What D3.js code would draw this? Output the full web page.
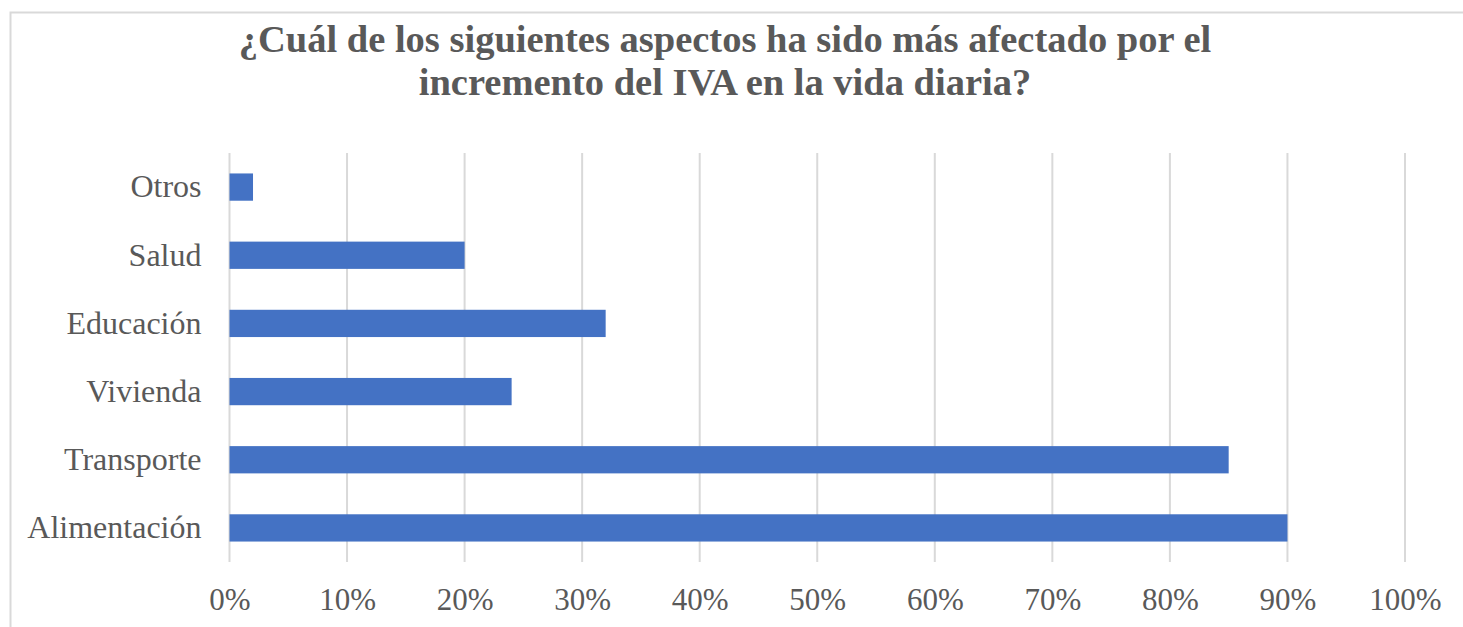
<!DOCTYPE html>
<html>
<head>
<meta charset="utf-8">
<script src="https://d3js.org/d3.v7.min.js"></script>
<style>
  body { margin: 0; background: #fff; }
  text { font-family: "Liberation Serif", "Times New Roman", serif; fill: #595959; }
</style>
</head>
<body>
<div id="chart"></div>
<script>
// data
var categories = ["Alimentación", "Transporte", "Vivienda", "Educación", "Salud", "Otros"];
var values = [0.90, 0.85, 0.24, 0.32, 0.20, 0.02];
var ticks = [0, 0.1, 0.2, 0.3, 0.4, 0.5, 0.6, 0.7, 0.8, 0.9, 1.0];
var titleLines = ["¿Cuál de los siguientes aspectos ha sido más afectado por el",
                  "incremento del IVA en la vida diaria?"];

var W = 1463, H = 627;
var margin = {top: 153, left: 229.5, right: 58, bottom: 65};

var svg = d3.select("#chart").append("svg")
    .attr("width", W)
    .attr("height", H);

// chart border
svg.append("rect")
    .attr("x", 10.5).attr("y", 12.5)
    .attr("width", 1470).attr("height", 640)
    .attr("fill", "none")
    .attr("stroke", "#d9d9d9")
    .attr("stroke-width", 2);

var x = d3.scaleLinear()
    .domain([0, 1])
    .range([margin.left, 1405]);

var y = d3.scaleBand()
    .domain(categories.slice().reverse())
    .range([margin.top, 562])
    .paddingInner(0.6)
    .paddingOuter(0.3);

// gridlines
svg.append("g")
  .selectAll("line")
  .data(ticks)
  .enter()
  .append("line")
    .attr("x1", function(d) { return x(d); })
    .attr("x2", function(d) { return x(d); })
    .attr("y1", margin.top)
    .attr("y2", 562)
    .attr("stroke", "#d9d9d9")
    .attr("stroke-width", 2);

// bars
svg.append("g")
  .selectAll("rect")
  .data(categories)
  .enter()
  .append("rect")
    .attr("x", x(0))
    .attr("y", function(d) { return y(d); })
    .attr("width", function(d, i) { return x(values[i]) - x(0); })
    .attr("height", y.bandwidth())
    .attr("fill", "#4472C4");

// x axis
var xAxis = svg.append("g")
    .attr("transform", "translate(0,562)")
    .call(d3.axisBottom(x).tickValues(ticks).tickFormat(d3.format(".0%")).tickSize(0).tickPadding(26));
xAxis.select(".domain").remove();
xAxis.selectAll("text")
    .style("font-size", "31px")
    .style("font-family", "Liberation Serif, Times New Roman, serif")
    .attr("fill", "#595959")
    .attr("dy", "0.71em");

// y axis
var yAxis = svg.append("g")
    .attr("transform", "translate(" + margin.left + ",0)")
    .call(d3.axisLeft(y).tickSize(0).tickPadding(28));
yAxis.select(".domain").remove();
yAxis.selectAll("text")
    .style("font-size", "32px")
    .style("font-family", "Liberation Serif, Times New Roman, serif")
    .attr("fill", "#595959");

// title
svg.append("g")
  .selectAll("text")
  .data(titleLines)
  .enter()
  .append("text")
    .attr("x", 725)
    .attr("y", function(d, i) { return 52 + i * 43; })
    .attr("text-anchor", "middle")
    .style("font-size", "38.5px")
    .style("font-weight", "bold")
    .text(function(d) { return d; });
</script>
</body>
</html>
